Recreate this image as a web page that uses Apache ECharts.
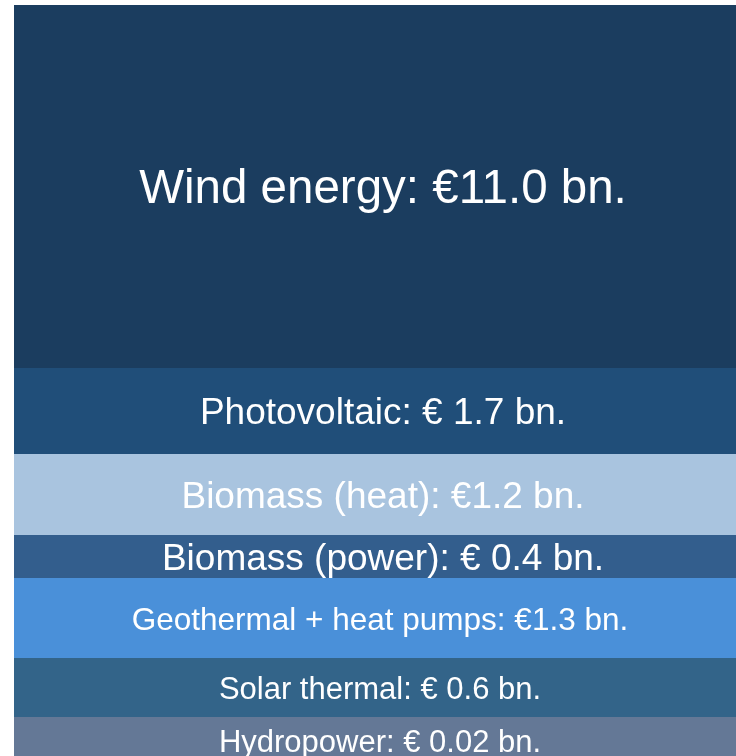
<!DOCTYPE html>
<html>
<head>
<meta charset="utf-8">
<script src="https://cdn.jsdelivr.net/npm/echarts@6/dist/echarts.min.js"></script>
<style>
  html, body { margin: 0; padding: 0; background: #fff; }
  #main { width: 736px; height: 756px; }
</style>
</head>
<body>
<div id="main"></div>
<script>
var categories = ["Wind energy", "Photovoltaic", "Biomass (heat)", "Biomass (power)", "Geothermal + heat pumps", "Solar thermal", "Hydropower"];
var investments = [11.0, 1.7, 1.2, 0.4, 1.3, 0.6, 0.02];
var labels = ["Wind energy: €11.0 bn.", "Photovoltaic: € 1.7 bn.", "Biomass (heat): €1.2 bn.", "Biomass (power): € 0.4 bn.", "Geothermal + heat pumps: €1.3 bn.", "Solar thermal: € 0.6 bn.", "Hydropower: € 0.02 bn."];
// band heights as drawn in the picture (not proportional to the euro values)
var bandWeights = [363, 86, 81, 43, 80, 59, 46];

var colors = ["#1b3d5f", "#204e79", "#a9c4df", "#335e8d", "#4a90d9", "#336489", "#647896"];
var fontSizes = [47.5, 37, 37, 37, 31.5, 31, 31];

var myChart = echarts.init(document.getElementById("main"));

var series = categories.map(function (name, i) {
  return {
    name: name,
    type: "bar",
    stack: "all",
    barWidth: "100%",
    clip: false,
    silent: true,
    itemStyle: { color: colors[i] },
    label: {
      show: true,
      position: "inside",
      // labels sit a bit right of the band centre in the original
      offset: [i < 4 ? 8 : 5, 3],
      color: "#fff",
      fontFamily: "Liberation Sans, Arial, sans-serif",
      fontSize: fontSizes[i],
      formatter: function () { return labels[i]; }
    },
    data: [{ value: bandWeights[i], investment: investments[i] }]
  };
});

myChart.setOption({
  animation: false,
  grid: { left: 14, right: 0, top: 5, bottom: 0 },
  xAxis: {
    type: "category",
    data: ["Investment"],
    show: false
  },
  yAxis: {
    type: "value",
    inverse: true,
    min: 0,
    max: 751,
    show: false
  },
  series: series
});
</script>
</body>
</html>
